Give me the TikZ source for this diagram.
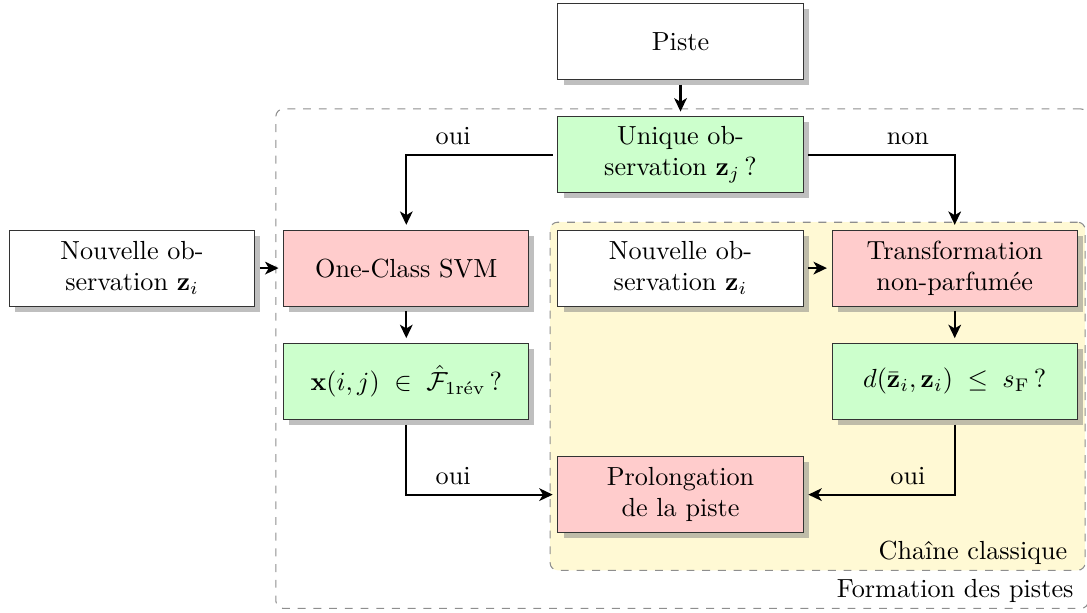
\documentclass[tikz,border=0pt]{standalone}
\usepackage{amsmath}
\usepackage{tikz}
\usetikzlibrary{arrows.meta,positioning,fit,backgrounds,shadows}
\definecolor{okgreen}{HTML}{CCFFCC}
\definecolor{stepred}{HTML}{FFCCCC}
\definecolor{pale}{HTML}{FFF9D4}
\definecolor{zonegray}{HTML}{8E8E8E}
\definecolor{ink}{HTML}{333333}
\tikzset{
  >={Stealth[length=1.8mm,width=1.7mm,inset=0.5mm]},
  flow/.style={->,thick},
  box/.style={draw=ink,fill=white,drop shadow,align=center,
    minimum width=32.9mm,minimum height=10.2mm,outer sep=2pt},
  redbox/.style={box,fill=stepred},
  greenbox/.style={box,fill=okgreen},
  zone/.style={draw=zonegray,dashed,rounded corners=1mm,inner sep=1pt},
  zonelabel/.style={anchor=south east,inner ysep=1pt}
}
\begin{document}
\begin{tikzpicture}[node distance=3.6mm and 2.5mm]
  \useasboundingbox (-9.134,0.557) rectangle (5.456,-7.658);
  \node[box] (piste) {Piste};
  \node[greenbox,below=of piste] (unique) {Unique ob-\\servation $\mathbf{z}_j$\,?};
  \node[box,below=of unique] (obsB) {Nouvelle ob-\\servation $\mathbf{z}_i$};
  \node[redbox,left=of obsB] (svm) {One-Class SVM};
  \node[box,left=of svm] (obsA) {Nouvelle ob-\\servation $\mathbf{z}_i$};
  \node[redbox,right=of obsB] (transfo) {Transformation\\non-parfumée};
  \node[greenbox,below=of svm] (test) {$\mathbf{x}(i,j)\;\in\;\hat{\mathcal{F}}_{1\text{rév}}$\,?};
  \node[greenbox,below=of transfo] (dist) {$d(\bar{\mathbf{z}}_i,\mathbf{z}_i)\;\leq\;s_{\mathrm{F}}$\,?};
  \node[redbox,yshift=-15.2mm] (prolong) at (test -| obsB) {Prolongation\\de la piste};

  \draw[flow] (piste) -- (unique);
  \draw[flow] (unique.west) -| node[above,pos=0.34]{oui} (svm);
  \draw[flow] (unique.east) -| node[above,pos=0.34]{non} (transfo);
  \draw[flow] (obsA) -- (svm);
  \draw[flow] (obsB) -- (transfo);
  \draw[flow] (svm) -- (test);
  \draw[flow] (transfo) -- (dist);
  \draw[flow] (test) |- node[above,pos=0.66]{oui} (prolong);
  \draw[flow] (dist) |- node[above,pos=0.66]{oui} (prolong);

  % cadres
  \node[zonelabel] (chaine) at ([xshift=-0.8mm,yshift=-19.2mm]dist.south east) {Chaîne classique};
  \begin{scope}[on background layer]
    \node[zone,fill=pale,fit=(obsB)(transfo)(dist)(prolong)(chaine)] (classique) {};
  \end{scope}
  \node[zonelabel] (formation) at ([xshift=-0.4mm,yshift=-4.7mm]classique.south east) {Formation des pistes};
  \begin{scope}[on background layer]
    \node[zone,fit=(unique)(svm)(test)(classique)(formation)] (pistes) {};
  \end{scope}
\end{tikzpicture}
\end{document}
